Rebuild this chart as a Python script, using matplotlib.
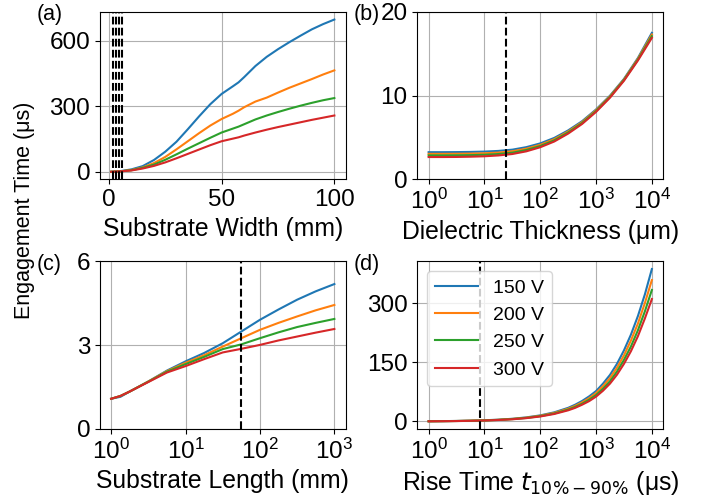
import numpy as np
import matplotlib.pyplot as plt
from matplotlib.ticker import NullLocator

plt.rcParams['font.family'] = ['Liberation Sans', 'DejaVu Sans']
plt.rcParams['font.size'] = 17.5

voltages = ['150 V', '200 V', '250 V', '300 V']
colors = ['tab:blue', 'tab:orange', 'tab:green', 'tab:red']

# (a) substrate width sweep, mm -> us
width = [1, 5, 10, 15, 20, 25, 30, 35, 40, 45, 50, 55, 57.5, 60, 65, 70, 75, 80, 85, 90, 95, 100]
width_t = [
    [0, 3, 11, 26, 54, 92, 138, 195, 254, 310, 357, 392, 410, 434, 485, 527, 562, 594, 624, 653, 677, 698],
    [0, 2, 8, 20, 40, 68, 103, 140, 177, 212, 242, 266, 280, 296, 322, 340, 363, 385, 405, 425, 446, 465],
    [0, 2, 7, 18, 33, 55, 80, 106, 131, 156, 180, 198, 207, 218, 240, 258, 274, 289, 303, 316, 328, 338],
    [0, 2, 6, 15, 27, 43, 62, 82, 102, 122, 140, 152, 158, 166, 180, 193, 205, 216, 227, 238, 248, 258],
]
width_marks = [2, 3.25, 4.5, 5.75]

# (b) dielectric thickness sweep, um (quarter decades from 1 to 1e4)
thick = 10 ** np.arange(0, 4.01, 0.25)
thick_t = [
    [3.25, 3.25, 3.26, 3.28, 3.32, 3.40, 3.55, 3.85, 4.30, 4.95, 5.85, 6.95, 8.35, 10.0, 12.0, 14.5, 17.5],
    [3.05, 3.05, 3.06, 3.08, 3.12, 3.20, 3.36, 3.67, 4.13, 4.80, 5.72, 6.84, 8.26, 9.92, 11.93, 14.4, 17.3],
    [2.87, 2.87, 2.88, 2.90, 2.94, 3.03, 3.19, 3.51, 3.98, 4.66, 5.60, 6.73, 8.16, 9.84, 11.86, 14.3, 17.1],
    [2.67, 2.67, 2.68, 2.71, 2.76, 2.86, 3.03, 3.35, 3.84, 4.52, 5.47, 6.62, 8.06, 9.76, 11.78, 14.2, 16.9],
]
thick_mark = 24

# (c) substrate length sweep, mm
length = 10 ** np.array([0, 0.125, 0.25, 0.5, 0.75, 1, 1.25, 1.5, 1.75, 2, 2.25, 2.5, 2.75, 3])
length_t = [
    [1.08, 1.15, 1.34, 1.70, 2.09, 2.42, 2.72, 3.07, 3.49, 3.91, 4.28, 4.63, 4.93, 5.19],
    [1.08, 1.18, 1.34, 1.70, 2.07, 2.37, 2.64, 2.95, 3.25, 3.55, 3.80, 4.03, 4.25, 4.44],
    [1.08, 1.18, 1.34, 1.69, 2.05, 2.32, 2.58, 2.86, 3.03, 3.25, 3.46, 3.65, 3.80, 3.94],
    [1.08, 1.18, 1.34, 1.68, 2.02, 2.25, 2.50, 2.74, 2.87, 3.01, 3.17, 3.31, 3.45, 3.58],
]
length_mark = 56

# (d) rise time sweep, us (finer steps over the steep upper part)
rise_exp = [0, 0.25, 0.5, 0.75, 1, 1.25, 1.5, 1.75, 2, 2.25, 2.5, 2.625, 2.75, 2.875,
            3, 3.125, 3.25, 3.375, 3.5, 3.625, 3.75, 3.875, 4]
rise = 10 ** np.array(rise_exp)
rise_t = [
    [0.6, 0.9, 1.4, 2.1, 3.1, 4.6, 6.9, 10.4, 15.5, 23.2, 34.6, 42.5, 52, 63.5,
     77, 96, 118, 146, 180, 220, 267, 322, 386],
    [0.6, 0.9, 1.3, 2.0, 2.9, 4.3, 6.5, 9.7, 14.5, 21.7, 32.3, 39.6, 48.5, 59,
     72, 89.5, 110, 136, 167.5, 205, 248, 300, 358],
    [0.5, 0.8, 1.2, 1.8, 2.7, 4.0, 6.0, 9.0, 13.5, 20.2, 30.1, 36.8, 45, 55,
     67, 83, 102, 126.5, 156, 190, 231, 279, 333],
    [0.5, 0.8, 1.1, 1.7, 2.5, 3.8, 5.6, 8.5, 12.7, 19.0, 28.3, 34.5, 42.5, 51.5,
     63, 78, 96, 118.5, 146, 178, 216, 261, 310],
]
rise_mark = 8.2

fig, axs = plt.subplots(2, 2, figsize=(7.07, 4.97), dpi=100)
fig.subplots_adjust(left=0.1414, right=0.9378, top=0.976, bottom=0.137,
                    wspace=0.293, hspace=0.49)
ax_a, ax_b, ax_c, ax_d = axs.flat

for k in range(4):
    ax_a.plot(width, width_t[k], color=colors[k], label=voltages[k])
    ax_b.plot(thick, thick_t[k], color=colors[k], label=voltages[k])
    ax_c.plot(length, length_t[k], color=colors[k], label=voltages[k])
    ax_d.plot(rise, rise_t[k], color=colors[k], label=voltages[k])

for w in width_marks:
    ax_a.axvline(w, color='k', ls='--', lw=1.5)
ax_b.axvline(thick_mark, color='k', ls='--', lw=1.5)
ax_c.axvline(length_mark, color='k', ls='--', lw=1.5)
ax_d.axvline(rise_mark, color='k', ls='--', lw=1.5)

ax_a.set_xticks([0, 50, 100])
ax_a.set_yticks([0, 300, 600])
ax_a.set_xlabel('Substrate Width (mm)', fontsize=17.8)

ax_b.set_xscale('log')
ax_b.set_xticks([1, 10, 100, 1000, 10000])
ax_b.set_ylim(0, 20)
ax_b.set_yticks([0, 10, 20])
ax_b.set_xlabel('Dielectric Thickness (μm)', fontsize=17.8)

ax_c.set_xscale('log')
ax_c.set_xticks([1, 10, 100, 1000])
ax_c.set_ylim(0, 6)
ax_c.set_yticks([0, 3, 6])
ax_c.set_xlabel('Substrate Length (mm)', fontsize=17.8)

ax_d.set_xscale('log')
ax_d.set_xticks([1, 10, 100, 1000, 10000])
ax_d.set_yticks([0, 150, 300])
ax_d.set_xlabel(r'Rise Time $t_{10\% - 90\%}$ (μs)', fontsize=17.8)
ax_d.legend(loc='upper left', fontsize=14, handlelength=2.2)

for ax, tag in zip(axs.flat, ['(a)', '(b)', '(c)', '(d)']):
    ax.grid(True)
    ax.xaxis.set_minor_locator(NullLocator())
    ax.text(-0.26, 1.045, tag, transform=ax.transAxes, fontsize=15.5,
            ha='left', va='top')

fig.text(0.035, 0.577, 'Engagement Time (μs)', rotation=90, fontsize=15.5,
         ha='center', va='center')

fig.savefig('out.png', dpi=100)
